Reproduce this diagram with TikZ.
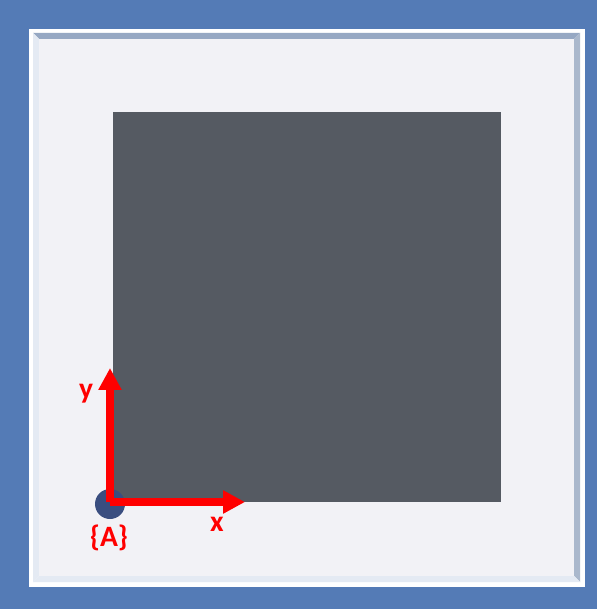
\documentclass[tikz,border=0pt]{standalone}
\usepackage{fontspec}
\setmainfont{Carlito}
\usetikzlibrary{arrows.meta}
\definecolor{bgblue}{RGB}{84,123,182}
\definecolor{panel}{RGB}{242,242,246}
\definecolor{bevtop}{RGB}{150,168,195}
\definecolor{bevright}{RGB}{170,184,204}
\definecolor{bevlight}{RGB}{228,234,243}
\definecolor{block}{RGB}{85,90,98}
\definecolor{frameball}{RGB}{58,78,128}
\tikzset{
  axis/.style={red, line width=5pt, -{Triangle[length=15.6pt,width=15.6pt]}},
  axislabel/.style={red, font=\bfseries\fontsize{21}{21}\selectfont}
}
\begin{document}
\begin{tikzpicture}[x=0.025cm, y=-0.025cm]
    \useasboundingbox (0,0) rectangle (597,609);
    % background and frame
    \fill[bgblue] (0,0) rectangle (597,609);
    \fill[white] (29,29) rectangle (585,587);
    \fill[bevtop] (33,33) -- (580,33) -- (574,39) -- (39,39) -- cycle;
    \fill[bevlight] (33,33) -- (39,39) -- (39,576) -- (33,582) -- cycle;
    \fill[bevright] (580,33) -- (580,582) -- (574,576) -- (574,39) -- cycle;
    \fill[bevlight] (33,582) -- (580,582) -- (574,576) -- (39,576) -- cycle;
    \fill[panel] (39,39) rectangle (574,576);
    % block
    \fill[block] (113,112) rectangle (501,502);
    % frame {A}
    \fill[frameball] (110,504) circle (15);
    \coordinate (A) at (110,502);
    \coordinate (xend) at (245,502);
    \coordinate (yend) at (110,368);
    \draw[axis] (A) -- (xend);
    \draw[axis] (A) -- (yend);
    \node[axislabel] (xlab) at (217,524) {x};
    \node[axislabel] (ylab) at (86,394) {y};
    \node[axislabel] (Alab) at (109,538) {\{A\}};
\end{tikzpicture}
\end{document}
